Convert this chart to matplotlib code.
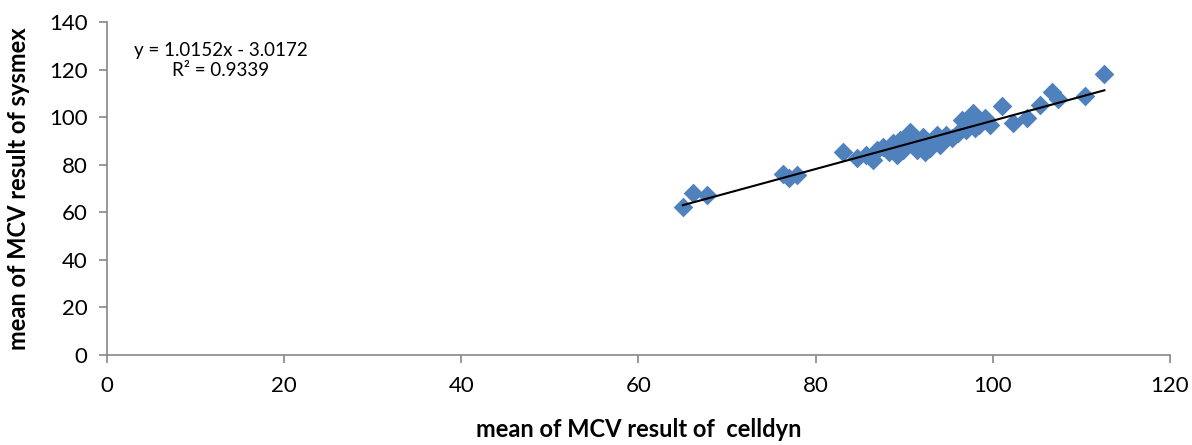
import matplotlib.pyplot as plt

# mean MCV per sample: celldyn (x) vs sysmex (y)
celldyn = [65.0, 66.2, 67.7, 76.3, 77.0, 77.9, 83.1, 84.7, 85.7, 86.5,
           86.9, 87.6, 88.3, 88.7, 89.2, 89.5, 89.9, 90.3, 90.7, 91.0,
           91.4, 91.8, 92.1, 92.3, 92.9, 93.2, 93.7, 94.0, 94.7, 95.4,
           96.1, 96.5, 97.0, 97.4, 97.8, 98.0, 98.4, 99.1, 99.7, 101.0,
           102.3, 103.9, 105.3, 106.7, 107.4, 110.4, 112.6]
sysmex = [62.2, 68.1, 67.3, 76.1, 74.4, 75.7, 85.3, 82.8, 84.1, 82.0,
          86.2, 87.4, 85.3, 89.1, 84.1, 90.4, 86.2, 88.3, 93.7, 90.4,
          86.2, 88.3, 91.6, 85.3, 87.0, 90.4, 92.5, 88.3, 92.5, 91.2,
          93.3, 98.8, 94.6, 98.8, 101.7, 95.4, 96.7, 99.6, 96.7, 104.7,
          97.5, 99.6, 105.1, 110.6, 107.6, 108.9, 118.1]

slope = 1.0152
intercept = -3.0172
r2 = 0.9339

x_ticks = [0, 20, 40, 60, 80, 100, 120]
y_ticks = [0, 20, 40, 60, 80, 100, 120, 140]

plt.rcParams["font.family"] = ["Lato", "DejaVu Sans"]

fig = plt.figure(figsize=(11.92, 4.45), dpi=100)
ax = fig.add_axes([0.0898, 0.2022, 0.8917, 0.7484])

ax.scatter(celldyn, sysmex, marker="D", s=100, color="#4F81BD",
           linewidths=0, zorder=2)

x0, x1 = min(celldyn), max(celldyn)
ax.plot([x0, x1], [slope * x0 + intercept, slope * x1 + intercept],
        color="black", linewidth=1.5, zorder=3)

ax.set_xlim(0, 120)
ax.set_ylim(0, 140)
ax.set_xticks(x_ticks)
ax.set_yticks(y_ticks)

for side in ("top", "right"):
    ax.spines[side].set_visible(False)
for side in ("left", "bottom"):
    ax.spines[side].set_color("#868686")
    ax.spines[side].set_linewidth(1.2)
ax.tick_params(axis="both", direction="out", length=6, width=1.2,
               color="#868686", labelsize=16)
ax.tick_params(axis="x", pad=9)
ax.tick_params(axis="y", pad=8)

ax.set_xlabel("mean of MCV result of  celldyn", fontsize=17,
              fontweight="bold", labelpad=16)
ax.set_ylabel("mean of MCV result of sysmex", fontsize=17,
              fontweight="bold", labelpad=14)

ax.text(0.107, 0.885, f"y = {slope}x - {abs(intercept)}\nR² = {r2}",
        transform=ax.transAxes, ha="center", va="center", fontsize=13.5,
        linespacing=1.25)

fig.savefig("out.png", dpi=100, facecolor="white")
